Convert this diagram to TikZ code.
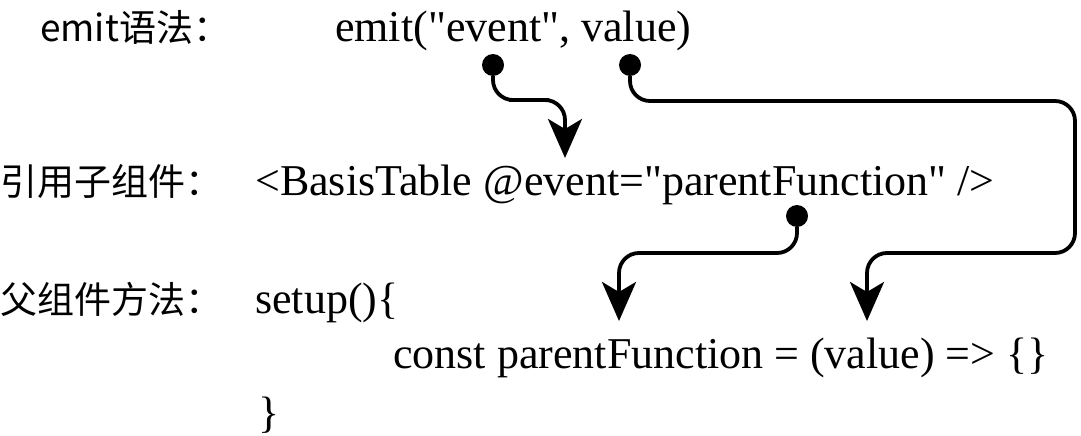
\documentclass[tikz,border=0pt]{standalone}
\usepackage{fontspec}
\setmainfont{Liberation Serif}
\newfontfamily\cjk{Noto Sans CJK SC}
\usepackage{tikz}
\usetikzlibrary{arrows.meta}
\newcommand{\dq}{\textquotedbl}
\tikzset{
  vertex/.style={shape=circle,fill=black,minimum size=22pt,inner sep=0},
  link/.style={line width=3.8pt,rounded corners=20pt,
    -{Stealth[length=39pt,width=34pt,inset=10pt,sharp]}},
  code/.style={anchor=base west,inner sep=0,font=\fontsize{44}{50}\selectfont},
  rowname/.style={anchor=base west,inner sep=0,font=\cjk\fontsize{37}{44}\selectfont}
}
\begin{document}
\begin{tikzpicture}[x=1pt,y=-1pt]
  \useasboundingbox (0,0) rectangle (1081,436);
  % row names
  \node[rowname] (n1) at (40,42) {emit语法：};
  \node[rowname] (n2) at (0,195) {引用子组件：};
  \node[rowname] (n3) at (0,313) {父组件方法：};
  % code lines
  \node[code] (emit) at (335,42) {emit(\dq event\dq, value)};
  \node[code] (child) at (255,195) {<BasisTable @event=\dq parentFunction\dq{} />};
  \node[code] (setup) at (255,313) {setup()\{};
  \node[code] (func) at (393,368) {const parentFunction = (value) => \{\}};
  \node[code] (close) at (258,427) {\}};
  % dots and arrow ends
  \node[vertex] (d1) at (493,65) {};
  \node[vertex] (d2) at (630,65) {};
  \node[vertex] (d3) at (797,216) {};
  \coordinate (e1) at (565,158);
  \coordinate (e2) at (867,321);
  \coordinate (e3) at (619,321);
  \begin{scope}
    \draw[link] (d1) |- (529,100) -| (e1);
    \draw[link] (d2) |- (1075,101) |- (e2 |- 0,253) -- (e2);
    \draw[link] (d3) |- (e3 |- 0,253) -- (e3);
  \end{scope}
\end{tikzpicture}
\end{document}
